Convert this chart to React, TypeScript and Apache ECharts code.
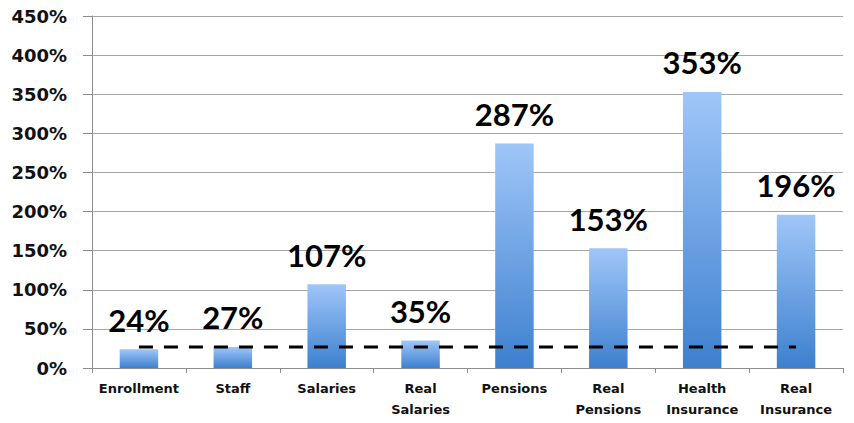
import React, { useEffect, useRef } from "react";
import * as echarts from "echarts";

const categories = [
  "Enrollment",
  "Staff",
  "Salaries",
  "Real\nSalaries",
  "Pensions",
  "Real\nPensions",
  "Health\nInsurance",
  "Real\nInsurance",
];
const growth = [24, 27, 107, 35, 287, 153, 353, 196];
const baseline = [27, 27, 27, 27, 27, 27, 27, 27];

export default function App() {
  const ref = useRef<HTMLDivElement>(null);
  useEffect(() => {
    if (!ref.current) return;
    const chart = echarts.init(ref.current, undefined, { renderer: "svg" });
    chart.setOption({
      animation: false,
      grid: { left: 92, right: 11, top: 16, bottom: 55 },
      xAxis: {
        type: "category",
        data: categories,
        axisLine: { lineStyle: { color: "#8c8c8c", width: 1 } },
        axisTick: { show: true, length: 5, lineStyle: { color: "#8c8c8c" } },
        axisLabel: {
          color: "#111",
          fontFamily: "DejaVu Sans",
          fontWeight: "bold",
          fontSize: 13,
          lineHeight: 21,
          margin: 10,
          interval: 0,
        },
      },
      yAxis: {
        type: "value",
        min: 0,
        max: 450,
        interval: 50,
        axisLine: { show: true, lineStyle: { color: "#8c8c8c", width: 1 } },
        axisTick: { show: true, length: 9, lineStyle: { color: "#8c8c8c" } },
        splitLine: { lineStyle: { color: "#a6a6a6", width: 1 } },
        axisLabel: {
          formatter: "{value}%",
          color: "#111",
          fontFamily: "DejaVu Sans",
          fontWeight: "bold",
          fontSize: 18,
          margin: 25,
        },
      },
      series: [
        {
          type: "bar",
          data: growth,
          barWidth: "41%",
          itemStyle: {
            color: new echarts.graphic.LinearGradient(0, 0, 0, 1, [
              { offset: 0, color: "#9fc6f8" },
              { offset: 1, color: "#3d80cf" },
            ]),
          },
          label: {
            show: true,
            position: "top",
            distance: 14,
            formatter: "{c}%",
            color: "#000",
            fontFamily: "Lato",
            fontWeight: "bold",
            fontSize: 31,
          },
          z: 2,
        },
        {
          type: "line",
          data: baseline,
          symbol: "none",
          lineStyle: { color: "#000", width: 3, type: [14, 11] },
          z: 3,
        },
      ],
    });
    return () => chart.dispose();
  }, []);
  return <div ref={ref} style={{ width: 854, height: 423, margin: -8 }} />;
}
